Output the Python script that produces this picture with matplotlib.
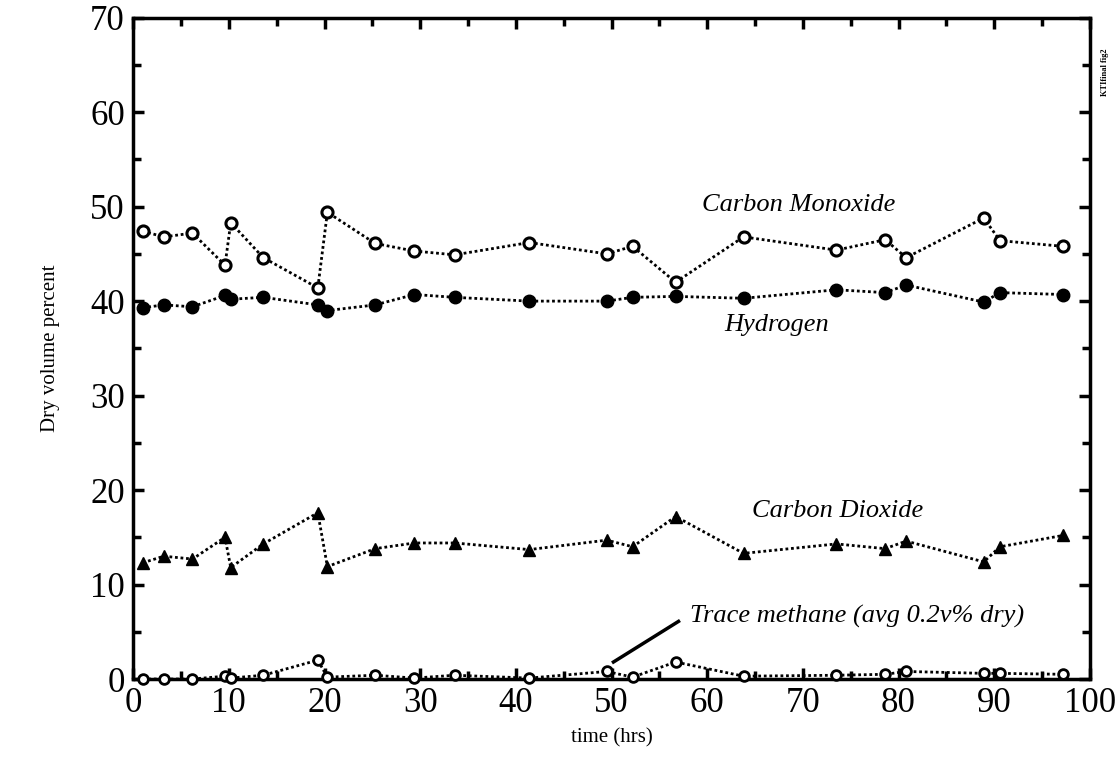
import matplotlib as mpl
mpl.use('Agg')
import matplotlib.pyplot as plt
from matplotlib.ticker import MultipleLocator

mpl.rcParams['font.family'] = ['Liberation Serif', 'DejaVu Serif']

# run time (hrs) for each gas sample
time_hrs = [1.0, 3.2, 6.2, 9.6, 10.2, 13.6, 19.3, 20.3, 25.3, 29.4, 33.6,
            41.4, 49.5, 52.2, 56.7, 63.8, 73.5, 78.6, 80.8, 88.9, 90.6, 97.2]

carbon_monoxide = [47.4, 46.8, 47.2, 43.8, 48.3, 44.6, 41.4, 49.4, 46.1, 45.3, 44.9,
                   46.2, 45.0, 45.8, 42.0, 46.8, 45.4, 46.5, 44.6, 48.8, 46.4, 45.8]
hydrogen = [39.3, 39.6, 39.4, 40.6, 40.2, 40.4, 39.6, 39.0, 39.6, 40.7, 40.4,
            40.0, 40.0, 40.4, 40.5, 40.3, 41.2, 40.9, 41.7, 39.9, 40.9, 40.7]
carbon_dioxide = [12.3, 13.0, 12.7, 15.0, 11.8, 14.3, 17.6, 11.9, 13.8, 14.4, 14.4,
                  13.7, 14.7, 14.0, 17.2, 13.3, 14.3, 13.8, 14.6, 12.4, 14.0, 15.2]
methane = [0.0, 0.0, 0.0, 0.3, 0.1, 0.4, 2.0, 0.2, 0.4, 0.1, 0.4,
           0.1, 0.8, 0.2, 1.8, 0.3, 0.4, 0.5, 0.8, 0.6, 0.6, 0.5]

line_kw = dict(color='black', linestyle=(0, (1, 1)), linewidth=2, clip_on=False, zorder=3)

fig = plt.figure(figsize=(11.19, 7.69), dpi=100)
ax = fig.add_axes([0.119, 0.117, 0.855, 0.860])

ax.plot(time_hrs, carbon_monoxide, marker='o', markersize=8, markerfacecolor='white',
        markeredgecolor='black', markeredgewidth=2.2, **line_kw)
ax.plot(time_hrs, hydrogen, marker='o', markersize=9, markerfacecolor='black',
        markeredgecolor='black', **line_kw)
ax.plot(time_hrs, carbon_dioxide, marker='^', markersize=9, markerfacecolor='black',
        markeredgecolor='black', **line_kw)
ax.plot(time_hrs, methane, marker='o', markersize=7, markerfacecolor='white',
        markeredgecolor='black', markeredgewidth=2, **line_kw)

ax.set_xlim(0, 100)
ax.set_ylim(0, 70)
ax.xaxis.set_major_locator(MultipleLocator(10))
ax.xaxis.set_minor_locator(MultipleLocator(5))
ax.yaxis.set_major_locator(MultipleLocator(10))
ax.yaxis.set_minor_locator(MultipleLocator(5))
ax.tick_params(which='both', direction='in', top=True, right=True, width=2.5)
ax.tick_params(which='major', length=8, labelsize=25, pad=6)
ax.tick_params(which='minor', length=6)
for s in ax.spines.values():
    s.set_linewidth(2.5)

ax.set_xlabel('time (hrs)', fontsize=15, labelpad=6)
ax.set_ylabel('Dry volume percent', fontsize=15, labelpad=22)

ax.text(59.5, 50.2, 'Carbon Monoxide', fontsize=19, style='italic', va='center')
ax.text(61.8, 37.5, 'Hydrogen', fontsize=19, style='italic', va='center')
ax.text(64.7, 17.8, 'Carbon Dioxide', fontsize=19, style='italic', va='center')
ax.text(58.2, 6.6, 'Trace methane (avg 0.2v% dry)', fontsize=19, style='italic', va='center')
ax.plot([50.2, 57.0], [1.8, 6.1], color='black', linewidth=2.5)

fig.text(0.9875, 0.906, 'KTIfinal fig2', rotation=90, fontsize=6, fontweight='bold',
         ha='center', va='center')

fig.savefig('out.png', dpi=100)
